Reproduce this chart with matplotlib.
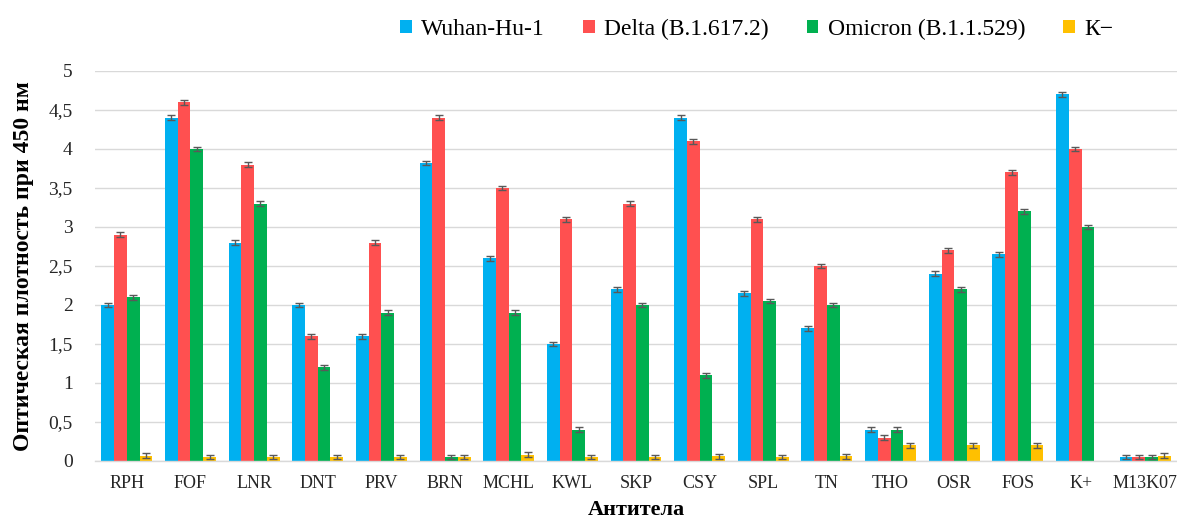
import numpy as np
import matplotlib.pyplot as plt

plt.rcParams['font.family'] = ['Liberation Serif', 'DejaVu Serif']

categories = ['RPH', 'FOF', 'LNR', 'DNT', 'PRV', 'BRN', 'MCHL', 'KWL', 'SKP',
              'CSY', 'SPL', 'TN', 'THO', 'OSR', 'FOS', 'K+', 'M13K07']
wuhan = [2.0, 4.4, 2.8, 2.0, 1.6, 3.82, 2.6, 1.5, 2.2, 4.4, 2.15, 1.7, 0.4, 2.4, 2.65, 4.7, 0.05]
delta = [2.9, 4.6, 3.8, 1.6, 2.8, 4.4, 3.5, 3.1, 3.3, 4.1, 3.1, 2.5, 0.3, 2.7, 3.7, 4.0, 0.05]
omicron = [2.1, 4.0, 3.3, 1.2, 1.9, 0.05, 1.9, 0.4, 2.0, 1.1, 2.05, 2.0, 0.4, 2.2, 3.2, 3.0, 0.05]
kminus = [0.07, 0.05, 0.05, 0.05, 0.05, 0.05, 0.08, 0.05, 0.05, 0.06, 0.05, 0.06, 0.2, 0.2, 0.2, 0.0, 0.07]
err = 0.03

series = [
    ('Wuhan-Hu-1', wuhan, '#00B0F0'),
    ('Delta (B.1.617.2)', delta, '#FF5050'),
    ('Omicron (B.1.1.529)', omicron, '#00B050'),
    ('К\u2212', kminus, '#FFC000'),
]

fig = plt.figure(figsize=(11.77, 5.2), dpi=100)
ax = fig.add_axes([0.0807, 0.1135, 0.9193, 0.75])

x = np.arange(len(categories))
w = 0.2
for i, (name, vals, col) in enumerate(series):
    vals = np.array(vals)
    pos = x + (i - 1.5) * w
    ax.bar(pos, vals, w, color=col, label=name, zorder=2)
    mask = vals > 0
    ax.errorbar(pos[mask], vals[mask], yerr=err, fmt='none', ecolor='#595959',
                elinewidth=1, capsize=3, capthick=1, zorder=3)

ax.set_xlim(-0.5, len(categories) - 0.5)
ax.set_ylim(0, 5)
ax.set_yticks(np.arange(0, 5.01, 0.5))
ax.set_yticklabels(['0', '0,5', '1', '1,5', '2', '2,5', '3', '3,5', '4', '4,5', '5'])
ax.set_xticks(x)
ax.set_xticklabels(categories)
ax.tick_params(axis='both', length=0, labelsize=13, colors='#262626')
ax.tick_params(axis='y', labelsize=14, pad=16)
ax.tick_params(axis='x', pad=10)
ax.grid(axis='y', color='#D9D9D9', linewidth=1, zorder=0)
for s in ['top', 'right', 'left']:
    ax.spines[s].set_visible(False)
ax.spines['bottom'].set_color('#D9D9D9')
ax.spines['bottom'].set_linewidth(1)

ax.set_ylabel('Оптическая плотность при 450 нм', fontsize=17, fontweight='bold', labelpad=10)
ax.set_xlabel('Антитела', fontsize=16, fontweight='bold', labelpad=6)

fig.legend(loc='upper center', bbox_to_anchor=(0.643, 1.005), ncol=4, frameon=False,
           fontsize=17, handlelength=0.5, handleheight=0.5, handletextpad=0.4,
           columnspacing=1.6)

fig.savefig('out.png', dpi=100)
